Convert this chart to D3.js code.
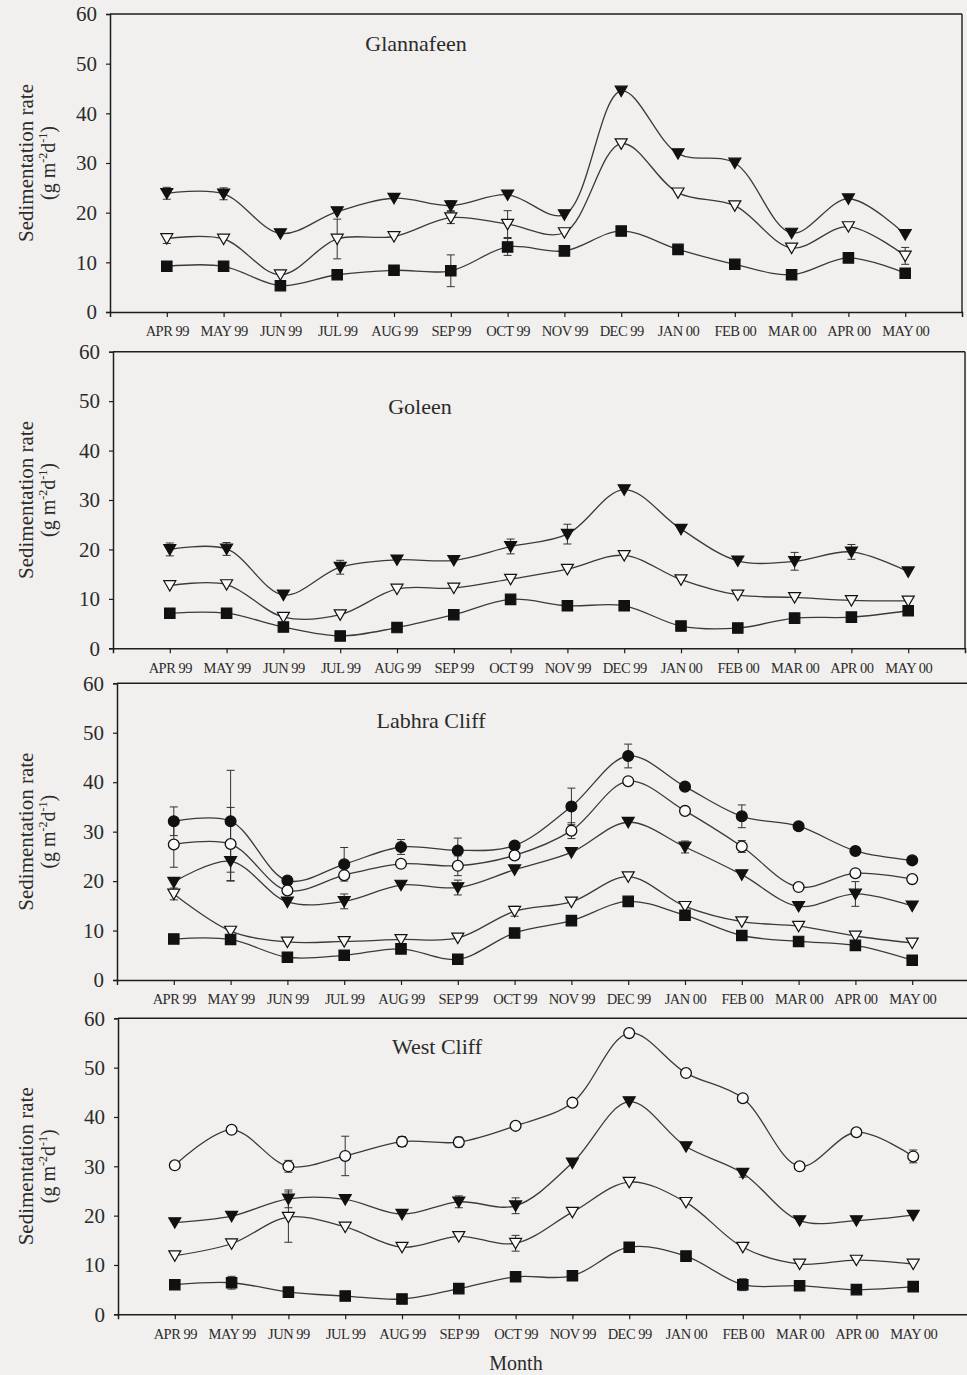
<!DOCTYPE html>
<html><head><meta charset="utf-8">
<script src="https://cdn.jsdelivr.net/npm/d3@7"></script>
<style>
body{margin:0;background:#f1f0ee;}
svg{display:block;}
text{font-family:"Liberation Serif","Times New Roman",serif;fill:#2b2b2b;}
</style>
</head><body>
<svg id="chart" width="967" height="1375"></svg>
<script>
// ---------- data ----------
const months = ["APR 99","MAY 99","JUN 99","JUL 99","AUG 99","SEP 99","OCT 99","NOV 99","DEC 99","JAN 00","FEB 00","MAR 00","APR 00","MAY 00"];
const yTicks = [0,10,20,30,40,50,60];
const panelTitles = ["Glannafeen","Goleen","Labhra Cliff","West Cliff"];
const yTitle1 = "Sedimentation rate";
const xTitle = "Month";

// Glannafeen
const glanFilledTri    = [23.9,23.8,15.8,20.2,22.9,21.4,23.6,19.6,44.5,31.9,30.0,15.9,22.8,15.6];
const glanFilledTriErr = [1.2,1.2,0,0,0,1.0,0,0,0,0,0,0,0,0];
const glanOpenTri      = [14.8,14.7,7.5,14.7,15.2,19.0,17.7,16.0,33.9,24.0,21.4,12.9,17.2,11.3];
const glanOpenTriErr   = [1.0,0,0,4.0,0,1.2,2.7,0,0,0,0,0,0,1.7];
const glanSquare       = [9.2,9.2,5.3,7.5,8.4,8.3,13.1,12.3,16.3,12.6,9.6,7.5,10.9,7.8];
const glanSquareErr    = [0,0,0,0,0,3.2,1.7,0,0,0,0,0,0,0];

// Goleen
const golFilledTri    = [20.0,20.1,10.8,16.4,17.9,17.8,20.6,23.1,32.1,24.1,17.7,17.6,19.5,15.5];
const golFilledTriErr = [1.3,1.3,0,1.4,0,0,1.5,2.0,0,0,0,1.8,1.5,0];
const golOpenTri      = [12.7,12.9,6.3,6.8,12.0,12.2,14.0,16.0,18.8,13.9,10.8,10.3,9.7,9.6];
const golOpenTriErr   = [0,0,0,0,0,0,0,0,0,0,0,0,0,0];
const golSquare       = [7.1,7.1,4.3,2.5,4.2,6.8,9.9,8.6,8.6,4.5,4.1,6.1,6.3,7.6];
const golSquareErr    = [0,0,0,0,0,0,0,0,0,0,0,0,0,0];

// Labhra Cliff
const labFilledCircle    = [32.1,32.1,20.1,23.4,26.9,26.2,27.2,35.1,45.3,39.1,33.1,31.1,26.1,24.2];
const labFilledCircleErr = [2.9,10.3,0,3.4,1.5,2.5,0,3.7,2.4,0,2.3,0,0,0];
const labOpenCircle      = [27.4,27.5,18.1,21.2,23.5,23.1,25.2,30.2,40.2,34.2,27.0,18.8,21.6,20.4];
const labOpenCircleErr   = [4.6,7.4,0,0,0,2.0,0,1.6,0,0,1.2,0,0,0];
const labFilledTri       = [19.8,24.0,15.8,15.9,19.2,18.7,22.3,25.8,31.9,26.9,21.3,14.9,17.4,15.0];
const labFilledTriErr    = [0,4.0,0,1.5,0,1.5,0,0,0,1.2,0,0,2.5,0];
const labOpenTri         = [17.4,9.9,7.7,7.8,8.2,8.5,13.9,15.8,20.9,14.9,11.8,10.9,8.9,7.5];
const labOpenTriErr      = [1.2,0,0,0,0,0,1.0,0,0,0,0,0,0,0];
const labSquare          = [8.3,8.2,4.6,5.0,6.3,4.2,9.5,12.0,15.9,13.1,9.0,7.8,7.0,4.0];
const labSquareErr       = [0,0,0,0,0,0,0,0,0,0,0,0,0,0];

// West Cliff
const westOpenCircle    = [30.2,37.4,30.0,32.1,35.0,34.9,38.2,42.9,57.0,48.9,43.8,30.0,36.9,32.0];
const westOpenCircleErr = [0,0,1.2,4.0,1.0,1.0,0,0,0,0,0,0,0,1.3];
const westFilledTri     = [18.6,19.9,23.4,23.3,20.3,22.8,22.0,30.7,43.1,34.0,28.6,19.0,19.0,20.1];
const westFilledTriErr  = [0,0,1.8,0,0,1.2,1.6,0,0,0,0.8,0,0,0];
const westOpenTri       = [11.9,14.3,19.7,17.7,13.6,15.8,14.4,20.7,26.8,22.7,13.6,10.2,11.0,10.2];
const westOpenTriErr    = [0,0,5.1,0,0,0,1.6,0,0,0,0,0,0,0];
const westSquare        = [6.0,6.4,4.5,3.7,3.1,5.2,7.6,7.8,13.6,11.8,6.0,5.8,5.0,5.6];
const westSquareErr     = [0,1.3,0,0,0,0,0,0,0,0,1.2,0,0,0];

// ---------- structure (built from the arrays above) ----------
const panels = [
  {title: panelTitles[0], series: [
    {v: glanFilledTri, e: glanFilledTriErr, m: "tri", f: true},
    {v: glanOpenTri, e: glanOpenTriErr, m: "tri", f: false},
    {v: glanSquare, e: glanSquareErr, m: "sq", f: true}]},
  {title: panelTitles[1], series: [
    {v: golFilledTri, e: golFilledTriErr, m: "tri", f: true},
    {v: golOpenTri, e: golOpenTriErr, m: "tri", f: false},
    {v: golSquare, e: golSquareErr, m: "sq", f: true}]},
  {title: panelTitles[2], series: [
    {v: labFilledCircle, e: labFilledCircleErr, m: "circ", f: true},
    {v: labOpenCircle, e: labOpenCircleErr, m: "circ", f: false},
    {v: labFilledTri, e: labFilledTriErr, m: "tri", f: true},
    {v: labOpenTri, e: labOpenTriErr, m: "tri", f: false},
    {v: labSquare, e: labSquareErr, m: "sq", f: true}]},
  {title: panelTitles[3], series: [
    {v: westOpenCircle, e: westOpenCircleErr, m: "circ", f: false},
    {v: westFilledTri, e: westFilledTriErr, m: "tri", f: true},
    {v: westOpenTri, e: westOpenTriErr, m: "tri", f: false},
    {v: westSquare, e: westSquareErr, m: "sq", f: true}]}
];

// ---------- layout ----------
const layout = [
  {left:110, top:14,    bottom:312,    tx:416, ty:51},
  {left:113, top:351.7, bottom:648.3,  tx:420, ty:414},
  {left:117, top:683.3, bottom:980,    tx:431, ty:728},
  {left:118, top:1018.3,bottom:1314.3, tx:437, ty:1054}
];
const plotW = 852;
const ink = "#1e1e1e";
const bg = "#f1f0ee";

const svg = d3.select("#chart");
svg.append("rect").attr("width",967).attr("height",1375).attr("fill",bg);

function markerPath(type){
  if(type==="tri") return "M-6,-4.8L6,-4.8L0,5.6Z";
  if(type==="sq") return "M-5.2,-5.2L5.2,-5.2L5.2,5.2L-5.2,5.2Z";
  return null;
}

panels.forEach((p,i)=>{
  const L = layout[i];
  const x = d3.scalePoint().domain(months).range([L.left, L.left+plotW]).padding(1);
  const y = d3.scaleLinear().domain([0,60]).range([L.bottom, L.top]);
  const g = svg.append("g");

  // frame: top and right
  g.append("line").attr("x1",L.left).attr("x2",L.left+plotW).attr("y1",L.top).attr("y2",L.top)
    .attr("stroke",ink).attr("stroke-width",1.4);
  g.append("line").attr("x1",L.left+plotW).attr("x2",L.left+plotW).attr("y1",L.top).attr("y2",L.bottom)
    .attr("stroke",ink).attr("stroke-width",1.4);

  // axes
  const ax = g.append("g").attr("transform",`translate(0,${L.bottom})`)
    .call(d3.axisBottom(x).tickSizeOuter(0).tickSize(5).tickPadding(9));
  ax.select(".domain").attr("stroke",ink).attr("stroke-width",1.5);
  ax.selectAll(".tick line").attr("stroke",ink).attr("stroke-width",1.2);
  ax.selectAll(".tick text").attr("font-size",14.5).attr("letter-spacing","-0.5px")
    .attr("font-family","Liberation Serif").attr("fill","#3a3a3a");

  const ay = g.append("g").attr("transform",`translate(${L.left},0)`)
    .call(d3.axisLeft(y).tickValues(yTicks).tickSizeOuter(0).tickSize(4).tickPadding(9));
  ay.select(".domain").attr("stroke",ink).attr("stroke-width",1.5);
  ay.selectAll(".tick line").attr("stroke",ink).attr("stroke-width",1.2);
  ay.selectAll(".tick text").attr("font-size",21).attr("font-family","Liberation Serif").attr("fill","#3a3a3a");

  // y title
  const cy = (L.top+L.bottom)/2;
  g.append("text").attr("transform",`translate(33,${cy}) rotate(-90)`)
    .attr("text-anchor","middle").attr("font-size",21).attr("fill","#3a3a3a").text(yTitle1);
  const t2 = g.append("text").attr("transform",`translate(55,${cy}) rotate(-90)`)
    .attr("text-anchor","middle").attr("font-size",20).attr("fill","#3a3a3a");
  t2.append("tspan").text("(g m");
  t2.append("tspan").attr("font-size",12).attr("dy",-8).text("-2");
  t2.append("tspan").attr("dy",8).text("d");
  t2.append("tspan").attr("font-size",12).attr("dy",-8).text("-1");
  t2.append("tspan").attr("dy",8).text(")");

  // panel title
  g.append("text").attr("x",L.tx).attr("y",L.ty).attr("text-anchor","middle")
    .attr("font-size",22).attr("fill","#333").text(p.title);

  const line = d3.line().x((d,j)=>x(months[j])).y(d=>y(d)).curve(d3.curveCatmullRom.alpha(0.5));

  // lines
  p.series.forEach(s=>{
    g.append("path").attr("d",line(s.v)).attr("fill","none").attr("stroke","#3a3a3a").attr("stroke-width",1.3);
  });
  // error bars
  p.series.forEach(s=>{
    s.v.forEach((val,j)=>{
      const e = s.e[j];
      if(!e) return;
      const cx = x(months[j]);
      const eb = g.append("g").attr("stroke","#333").attr("stroke-width",1);
      eb.append("line").attr("x1",cx).attr("x2",cx).attr("y1",y(val+e)).attr("y2",y(val-e));
      eb.append("line").attr("x1",cx-4).attr("x2",cx+4).attr("y1",y(val+e)).attr("y2",y(val+e));
      eb.append("line").attr("x1",cx-4).attr("x2",cx+4).attr("y1",y(val-e)).attr("y2",y(val-e));
    });
  });
  // markers
  p.series.forEach(s=>{
    const sel = g.append("g").selectAll("x").data(s.v).enter();
    if(s.m==="circ"){
      sel.append("circle").attr("cx",(d,j)=>x(months[j])).attr("cy",d=>y(d)).attr("r",5.4)
        .attr("fill",s.f?"#111":"#fafafa").attr("stroke","#111").attr("stroke-width",1.3);
    } else {
      sel.append("path").attr("d",markerPath(s.m))
        .attr("transform",(d,j)=>`translate(${x(months[j])},${y(d)})`)
        .attr("fill",s.f?"#111":"#fafafa").attr("stroke","#111").attr("stroke-width",1.2);
    }
  });
});

svg.append("text").attr("x",516).attr("y",1370).attr("text-anchor","middle")
  .attr("font-size",20).attr("fill","#333").text(xTitle);
</script>
</body></html>
